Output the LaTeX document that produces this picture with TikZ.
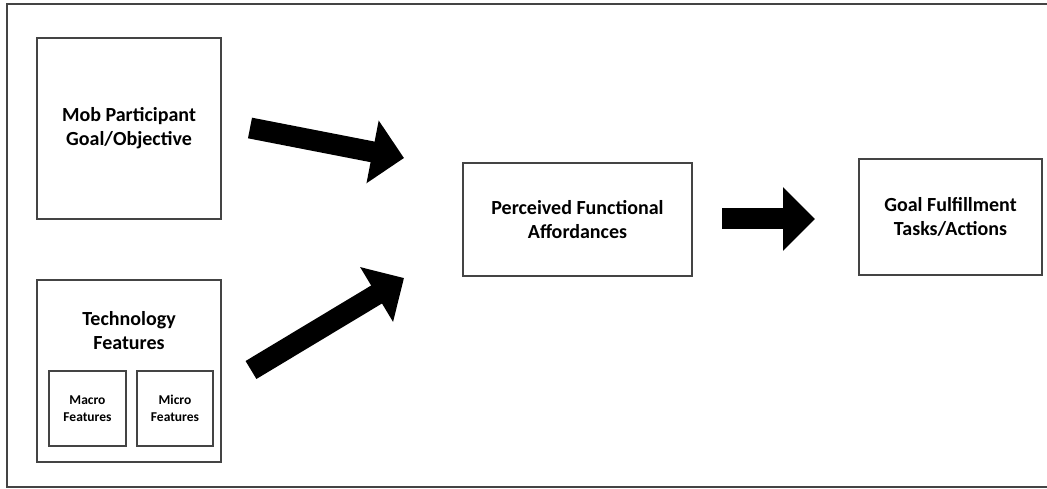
\documentclass[tikz,border=0pt]{standalone}
\usepackage{fontspec}
\setmainfont{Carlito}
\usetikzlibrary{arrows.meta}
\definecolor{edgegray}{HTML}{444444}
\tikzset{
    box/.style={draw=edgegray, line width=2pt, rectangle, align=center, inner sep=0pt,
        font=\bfseries\fontsize{20}{24}\selectfont},
    smallbox/.style={box, font=\bfseries\fontsize{13.5}{17}\selectfont},
    bigarrow/.style={black, line width=21pt, -{Triangle[length=32pt,width=62pt]}}
}
\begin{document}
\begin{tikzpicture}[x=1pt,y=-1pt]
        \useasboundingbox (0,0) rectangle (1047,489);
        % outer frame, open at the right edge
        \draw[edgegray, line width=2.5pt] (1047,4) -- (7,4) -- (7,487) -- (1047,487);
        \begin{scope}
            \node[box, minimum width=184pt, minimum height=181pt] (goalobj) at (129,128.5) {Mob Participant\\Goal/Objective};
            \node[box, minimum width=184pt, minimum height=182pt] (tech) at (129,371) {};
            \node[align=center, font=\bfseries\fontsize{20}{24}\selectfont] (techlabel) at (129,331) {Technology\\Features};
            \node[smallbox, minimum width=77pt, minimum height=75pt] (macro) at (87.5,408.5) {Macro\\Features};
            \node[smallbox, minimum width=76pt, minimum height=75pt] (micro) at (175,408.5) {Micro\\Features};
        \end{scope}
        \node[box, minimum width=229pt, minimum height=113pt] (afford) at (577.5,219.5) {Perceived Functional\\Affordances};
        \node[box, minimum width=183pt, minimum height=116pt] (fulfil) at (950.5,217) {Goal Fulfillment\\Tasks/Actions};
        \coordinate (goaltail) at (250,128);
        \coordinate (goaltip) at (404,158);
        \coordinate (techtail) at (251,370);
        \coordinate (techtip) at (404,278);
        \coordinate (fulfiltail) at (722,219);
        \coordinate (fulfiltip) at (815,219);
        \draw[bigarrow] (goaltail) -- (goaltip);
        \draw[bigarrow] (techtail) -- (techtip);
        \draw[bigarrow] (fulfiltail) -- (fulfiltip);
    \end{tikzpicture}
\end{document}
